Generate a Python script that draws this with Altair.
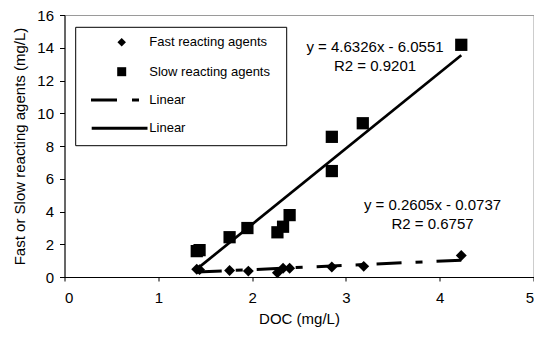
import altair as alt
import pandas as pd

# ---- data ----
slow_x = [1.41, 1.44, 1.76, 1.95, 2.27, 2.33, 2.40, 2.85, 2.85, 3.18, 4.23]
slow_y = [1.58, 1.64, 2.43, 2.99, 2.73, 3.07, 3.78, 6.47, 8.56, 9.39, 14.18]
fast_x = [1.41, 1.44, 1.76, 1.96, 2.27, 2.33, 2.40, 2.85, 3.19, 4.23]
fast_y = [0.47, 0.45, 0.40, 0.36, 0.26, 0.53, 0.53, 0.61, 0.65, 1.31]
trend_x = [1.41, 4.23]
slow_trend_y = [0.48, 13.54]
fast_trend_y = [0.30, 1.03]
x_ticks = [0, 1, 2, 3, 4, 5]
y_ticks = [0, 2, 4, 6, 8, 10, 12, 14, 16]
slow_eq = ["y = 4.6326x - 6.0551", "R2 = 0.9201"]
fast_eq = ["y = 0.2605x - 0.0737", "R2 = 0.6757"]
legend_labels = ["Fast reacting agents", "Slow reacting agents", "Linear", "Linear"]
x_title = "DOC (mg/L)"
y_title = "Fast or Slow reacting agents (mg/L)"

FONT = "Liberation Sans"

slow_df = pd.DataFrame({"x": slow_x, "y": slow_y})
fast_df = pd.DataFrame({"x": fast_x, "y": fast_y})
slow_tr = pd.DataFrame({"x": trend_x, "y": slow_trend_y})
fast_tr = pd.DataFrame({"x": trend_x, "y": fast_trend_y})
one = pd.DataFrame({"a": [0]})

xs = alt.Scale(domain=[0, 5], nice=False, zero=False)
ys = alt.Scale(domain=[0, 16], nice=False, zero=False)

common_axis = dict(
    grid=False, format="d", labelFont=FONT, titleFont=FONT, labelFontSize=15,
    titleFontSize=15, labelColor="black", titleColor="black",
    domainColor="black", tickColor="black", domainWidth=1, tickWidth=1,
    titleFontWeight="normal", labelOverlap=False,
)

xenc = alt.X("x:Q", scale=xs, axis=alt.Axis(
    values=x_ticks, title=x_title, tickSize=4, labelPadding=9,
    titleY=34, titleBaseline="top", **common_axis))
yenc = alt.Y("y:Q", scale=ys, axis=alt.Axis(
    values=y_ticks, title=y_title, tickSize=5, labelPadding=6,
    titleX=-37, **common_axis))

fast_line = alt.Chart(fast_tr).mark_line(
    color="black", strokeWidth=3, strokeDash=[25, 14, 7, 14], strokeCap="butt"
).encode(x=xenc, y=yenc)
slow_line = alt.Chart(slow_tr).mark_line(
    color="black", strokeWidth=2.7
).encode(x=xenc, y=yenc)

fast_pts = alt.Chart(fast_df).mark_point(
    shape="diamond", filled=True, color="black", size=120, opacity=1
).encode(x=xenc, y=yenc)
slow_pts = alt.Chart(slow_df).mark_point(
    shape="square", filled=True, color="black", size=150, opacity=1
).encode(x=xenc, y=yenc)

def txt(s, x, y, size=15, align="center"):
    return alt.Chart(one).mark_text(
        text=s, font=FONT, fontSize=size, color="black", align=align,
        baseline="middle"
    ).encode(x=alt.value(x), y=alt.value(y))

ann = [
    txt(slow_eq[0], 310.5, 31.8), txt(slow_eq[1], 310.5, 51.2),
    txt(fast_eq[0], 368, 190), txt(fast_eq[1], 368, 208.5),
]

# legend (manual): frame drawn as four rules
L, R, T, B = 11.2, 222.2, 12.3, 130.7
def hrule(x1, x2, y, **kw):
    return alt.Chart(one).mark_rule(color="black", strokeWidth=1, **kw).encode(
        x=alt.value(x1), x2=alt.value(x2), y=alt.value(y))
def vrule(x, y1, y2):
    return alt.Chart(one).mark_rule(color="black", strokeWidth=1).encode(
        x=alt.value(x), y=alt.value(y1), y2=alt.value(y2))

frame = [hrule(L, R, T), hrule(L, R, B), vrule(L, T, B), vrule(R, T, B)]
leg_d = alt.Chart(one).mark_point(shape="diamond", filled=True, color="black",
                                  size=72, opacity=1).encode(
    x=alt.value(57.2), y=alt.value(27.3))
leg_s = alt.Chart(one).mark_point(shape="square", filled=True, color="black",
                                  size=81, opacity=1).encode(
    x=alt.value(57.2), y=alt.value(56.7))
leg_dash = alt.Chart(one).mark_rule(color="black", strokeWidth=3,
                                    strokeDash=[26, 15, 7, 60], strokeCap="butt").encode(
    x=alt.value(26.5), x2=alt.value(75), y=alt.value(85))
leg_solid = alt.Chart(one).mark_rule(color="black", strokeWidth=3).encode(
    x=alt.value(27.2), x2=alt.value(83), y=alt.value(113.3))
leg_txt = [txt(legend_labels[i], 84.8, yy, size=13, align="left")
           for i, yy in enumerate([27.3, 56.7, 85, 113.3])]

chart = alt.layer(
    fast_line, slow_line, fast_pts, slow_pts, *ann,
    *frame, leg_d, leg_s, leg_dash, leg_solid, *leg_txt
).properties(
    width=469, height=262,
    autosize=alt.AutoSizeParams(type="none", contains="content"),
    padding={"left": 56.5, "top": 7, "right": 0.5, "bottom": 51},
    background="white",
).configure_view(
    stroke="#9a9a9a", strokeWidth=1
)

chart.save("out.html", embed_options={"renderer": "svg", "actions": False})
